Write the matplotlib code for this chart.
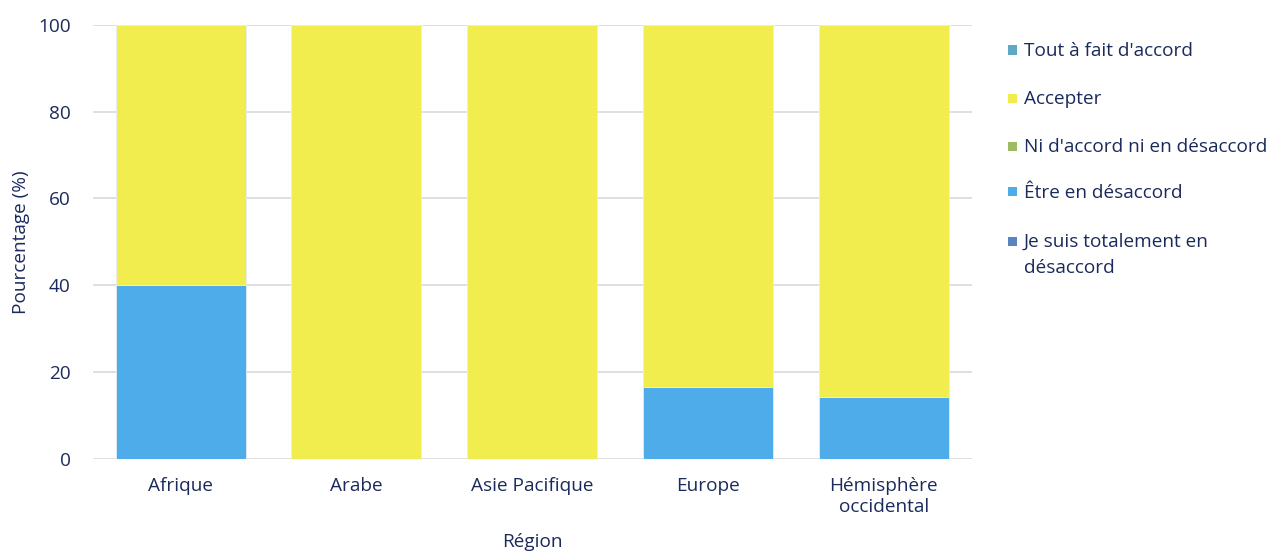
import matplotlib
matplotlib.use("Agg")
from matplotlib import pyplot as plt
from matplotlib.patches import Rectangle
import numpy as np

regions = ["Afrique", "Arabe", "Asie Pacifique", "Europe", "Hémisphère\noccidental"]
series = ["Tout à fait d'accord", "Accepter", "Ni d'accord ni en désaccord",
          "Être en désaccord", "Je suis totalement en\ndésaccord"]
# stacked from bottom: Je suis totalement, Être, Ni, Accepter, Tout à fait
tout_a_fait = [0, 0, 0, 0, 0]
accepter = [60, 100, 100, 83.33, 85.71]
ni_ni = [0, 0, 0, 0, 0]
desaccord = [40, 0, 0, 16.67, 14.29]
totalement = [0, 0, 0, 0, 0]

colors = ["#5fa9c6", "#f2ed4f", "#9dbb63", "#4facea", "#5a84c0"]
navy = "#1b2a5c"
W, H = 1270, 554

plt.rcParams['font.family'] = ['Open Sans', 'DejaVu Sans']

fig = plt.figure(figsize=(12.7, 5.54), dpi=100)
ax = fig.add_axes([0.073, 0.1715, 0.692, 0.784])

x = np.arange(len(regions))
w = 0.74
bottom = np.zeros(len(regions))
stack = [(totalement, colors[4]), (desaccord, colors[3]), (ni_ni, colors[2]),
         (accepter, colors[1]), (tout_a_fait, colors[0])]
for vals, c in stack:
    vals = np.array(vals, dtype=float)
    ax.bar(x, vals, w, bottom=bottom, color=c, edgecolor="#e6eef5",
           linewidth=0.6, zorder=3)
    bottom += vals

ax.set_xlim(-0.5, len(regions) - 0.5)
ax.set_ylim(0, 100)
ax.set_yticks([0, 20, 40, 60, 80, 100])
ax.set_xticks(x)
ax.set_xticklabels(regions)
ax.grid(axis="y", color="#d9d9d9", linewidth=1.2, zorder=0)
ax.set_axisbelow(True)
for s in ax.spines.values():
    s.set_visible(False)
ax.tick_params(axis="both", length=0, labelsize=13.7, labelcolor=navy)
ax.tick_params(axis="y", pad=16)
ax.tick_params(axis="x", pad=13)
ax.set_ylabel("Pourcentage (%)", fontsize=13.7, color=navy, labelpad=6)
ax.set_xlabel("Région", fontsize=13.7, color=navy, labelpad=12)

# legend drawn by hand so the wrapped last label keeps its square on line one
rows = [50, 98, 146, 192, 241]
sq = 9
for lab, c, yc in zip(series, colors, rows):
    fig.patches.append(Rectangle((1008 / W, 1 - (yc + sq / 2) / H), sq / W, sq / H,
                                 transform=fig.transFigure, facecolor=c,
                                 edgecolor="none"))
    fig.text(1024 / W, 1 - (yc - 8) / H, lab, fontsize=13.7, color=navy,
             va="top", ha="left", linespacing=1.55)

fig.savefig("out.png", dpi=100)
